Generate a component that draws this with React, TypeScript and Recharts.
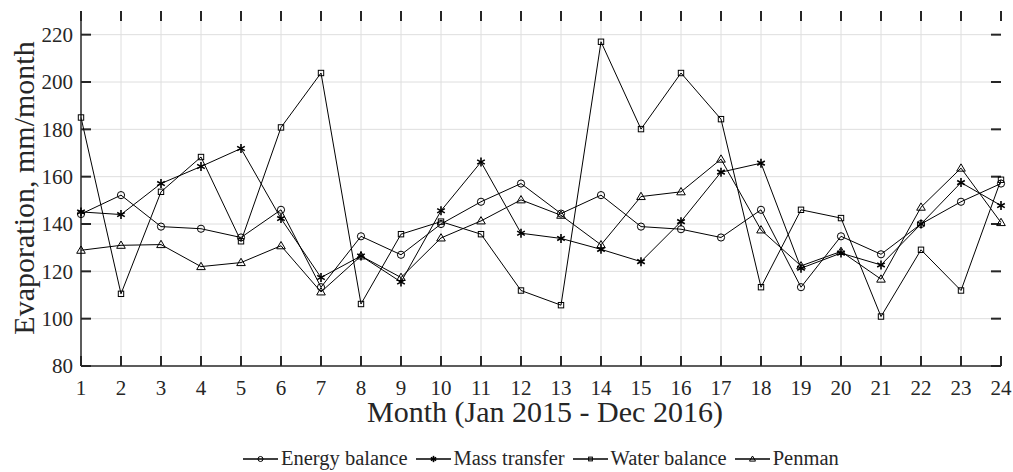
import { Label, Legend, Line, LineChart, ReferenceLine, XAxis, YAxis } from "recharts";

const months = [1, 2, 3, 4, 5, 6, 7, 8, 9, 10, 11, 12, 13, 14, 15, 16, 17, 18, 19, 20, 21, 22, 23, 24];
const energyBalance = [144.2, 152.2, 138.9, 138.0, 134.3, 146.0, 113.3, 134.8, 127.0, 140.0, 149.4, 157.1, 144.4, 152.2, 138.9, 137.8, 134.3, 146.0, 113.3, 134.8, 127.2, 140.0, 149.4, 157.1];
const massTransfer = [145.1, 144.0, 157.1, 164.3, 171.9, 142.3, 117.4, 126.5, 115.5, 145.6, 166.2, 136.1, 133.9, 129.3, 124.1, 141.0, 161.9, 165.7, 121.3, 127.7, 122.7, 140.0, 157.5, 147.8];
const waterBalance = [185.0, 110.5, 153.6, 168.3, 132.7, 180.8, 203.8, 106.2, 135.7, 141.0, 135.7, 111.9, 105.7, 217.0, 180.1, 203.8, 184.3, 113.3, 146.0, 142.5, 100.9, 129.1, 111.9, 158.7];
const penman = [128.9, 131.0, 131.3, 122.0, 123.7, 130.8, 111.3, 126.5, 117.4, 134.1, 141.3, 150.2, 143.7, 131.2, 151.6, 153.6, 167.4, 137.5, 122.3, 128.4, 116.7, 147.1, 163.6, 140.6];
const yTicks = [80, 100, 120, 140, 160, 180, 200, 220];

const X_DOMAIN: [number, number] = [1, 24];
const Y_DOMAIN: [number, number] = [80, 230];

const data = months.map((m, i) => ({
  month: m,
  energy: energyBalance[i],
  mass: massTransfer[i],
  water: waterBalance[i],
  penman: penman[i],
}));

const INK = "#262626";
const GRID = "#dedede";
const FONT = "'Liberation Serif', 'Times New Roman', serif";

// plot box size in px, used only to turn the 10px inward tick length into axis units
const PLOT_W = 920;
const PLOT_H = 355;
const TICK_PX = 10;
const tickDx = (TICK_PX * (X_DOMAIN[1] - X_DOMAIN[0])) / PLOT_W;
const tickDy = (TICK_PX * (Y_DOMAIN[1] - Y_DOMAIN[0])) / PLOT_H;

type MarkerKind = "circle" | "star" | "square" | "triangle";

// k scales the marker (legend markers are drawn smaller)
function Marker({ kind, cx, cy, k = 1 }: { kind: MarkerKind; cx: number; cy: number; k?: number }) {
  if (kind === "circle") {
    return <circle cx={cx} cy={cy} r={3.6 * k} fill="none" stroke="#000" strokeWidth={1} />;
  }
  if (kind === "square") {
    const h = 2.7 * k;
    return <rect x={cx - h} y={cy - h} width={2 * h} height={2 * h} fill="none" stroke="#000" strokeWidth={1} />;
  }
  if (kind === "triangle") {
    const w = 4.3 * k;
    return (
      <polygon
        points={`${cx},${cy - w} ${cx + w},${cy + w * 0.7} ${cx - w},${cy + w * 0.7}`}
        fill="none"
        stroke="#000"
        strokeWidth={1}
      />
    );
  }
  const s = 4.5 * k;
  const d = s * 0.85;
  return (
    <g stroke="#000" strokeWidth={1.6}>
      <line x1={cx} y1={cy - s} x2={cx} y2={cy + s} />
      <line x1={cx - d} y1={cy - d * 0.55} x2={cx + d} y2={cy + d * 0.55} />
      <line x1={cx - d} y1={cy + d * 0.55} x2={cx + d} y2={cy - d * 0.55} />
    </g>
  );
}

const dotFor = (kind: MarkerKind) => (props: any) => {
  const { cx, cy, index } = props;
  if (cx == null || cy == null) return <g key={index} />;
  return <Marker key={index} kind={kind} cx={cx} cy={cy} />;
};

const series: { key: string; name: string; kind: MarkerKind }[] = [
  { key: "energy", name: "Energy balance", kind: "circle" },
  { key: "mass", name: "Mass transfer", kind: "star" },
  { key: "water", name: "Water balance", kind: "square" },
  { key: "penman", name: "Penman", kind: "triangle" },
];

function LegendContent() {
  return (
    <div style={{ display: "flex", alignItems: "center", paddingLeft: 243, fontFamily: FONT, fontSize: 20.5, color: INK }}>
      {series.map((s) => (
        <div key={s.key} style={{ display: "flex", alignItems: "center", marginRight: 8 }}>
          <svg width={35} height={14} style={{ marginRight: 3 }}>
            <line x1={0} y1={7} x2={35} y2={7} stroke="#000" strokeWidth={1.5} />
            <Marker kind={s.kind} cx={17.5} cy={7} k={0.7} />
          </svg>
          <span>{s.name}</span>
        </div>
      ))}
    </div>
  );
}

const tickFont = { fontSize: 21, fontFamily: FONT, fill: INK };
const axisLn = { stroke: INK, strokeWidth: 1.5 };
const tickStyle = { stroke: INK, strokeWidth: 2 };

export default function App() {
  return (
    <div style={{ position: "absolute", left: 0, top: 0, width: 1013, height: 472, background: "#fff" }}>
      <LineChart width={1013} height={472} data={data} margin={{ top: 11, right: 12, bottom: 0, left: 0 }}>
        <XAxis
          dataKey="month"
          type="number"
          domain={X_DOMAIN}
          ticks={months}
          interval={0}
          height={106}
          tickSize={0}
          tickMargin={14}
          tickLine={false}
          tick={tickFont}
          axisLine={axisLn}
        >
          <Label
            content={() => (
              <text x={545} y={422} textAnchor="middle" fontSize={30} fontFamily={FONT} fill={INK}>
                Month (Jan 2015 - Dec 2016)
              </text>
            )}
          />
        </XAxis>
        <XAxis xAxisId="top" orientation="top" type="number" domain={X_DOMAIN} height={0} tick={false} tickLine={false} axisLine={axisLn} />
        <YAxis
          type="number"
          domain={Y_DOMAIN}
          ticks={yTicks}
          interval={0}
          width={81}
          tickSize={0}
          tickMargin={8}
          tickLine={false}
          tick={tickFont}
          axisLine={axisLn}
        >
          <Label
            content={() => (
              <text
                x={0}
                y={0}
                transform="translate(34 188) rotate(-90)"
                textAnchor="middle"
                fontSize={30}
                fontFamily={FONT}
                fill={INK}
              >
                Evaporation, mm/month
              </text>
            )}
          />
        </YAxis>
        <YAxis yAxisId="right" orientation="right" type="number" domain={Y_DOMAIN} width={0} tick={false} tickLine={false} axisLine={axisLn} />

        {/* light grid, drawn first so the tick marks sit on top of it */}
        {months.slice(1, -1).map((m) => (
          <ReferenceLine key={`gx${m}`} x={m} stroke={GRID} strokeWidth={1} />
        ))}
        {yTicks.slice(1).map((v) => (
          <ReferenceLine key={`gy${v}`} y={v} stroke={GRID} strokeWidth={1} />
        ))}

        {/* inward tick marks on all four sides of the box */}
        {months.map((m) => (
          <ReferenceLine key={`b${m}`} segment={[{ x: m, y: Y_DOMAIN[0] }, { x: m, y: Y_DOMAIN[0] + tickDy }]} {...tickStyle} />
        ))}
        {months.map((m) => (
          <ReferenceLine key={`t${m}`} segment={[{ x: m, y: Y_DOMAIN[1] }, { x: m, y: Y_DOMAIN[1] - tickDy }]} {...tickStyle} />
        ))}
        {yTicks.map((v) => (
          <ReferenceLine key={`l${v}`} segment={[{ x: X_DOMAIN[0], y: v }, { x: X_DOMAIN[0] + tickDx, y: v }]} {...tickStyle} />
        ))}
        {yTicks.map((v) => (
          <ReferenceLine key={`r${v}`} segment={[{ x: X_DOMAIN[1], y: v }, { x: X_DOMAIN[1] - tickDx, y: v }]} {...tickStyle} />
        ))}

        {series.map((s) => (
          <Line
            key={s.key}
            dataKey={s.key}
            name={s.name}
            stroke="#000"
            strokeWidth={1}
            dot={dotFor(s.kind)}
            activeDot={false}
            isAnimationActive={false}
          />
        ))}
        <Legend
          layout="horizontal"
          verticalAlign="middle"
          align="center"
          content={<LegendContent />}
          wrapperStyle={{ top: 447, left: 0, width: 1013, height: 26 }}
        />
      </LineChart>
    </div>
  );
}
